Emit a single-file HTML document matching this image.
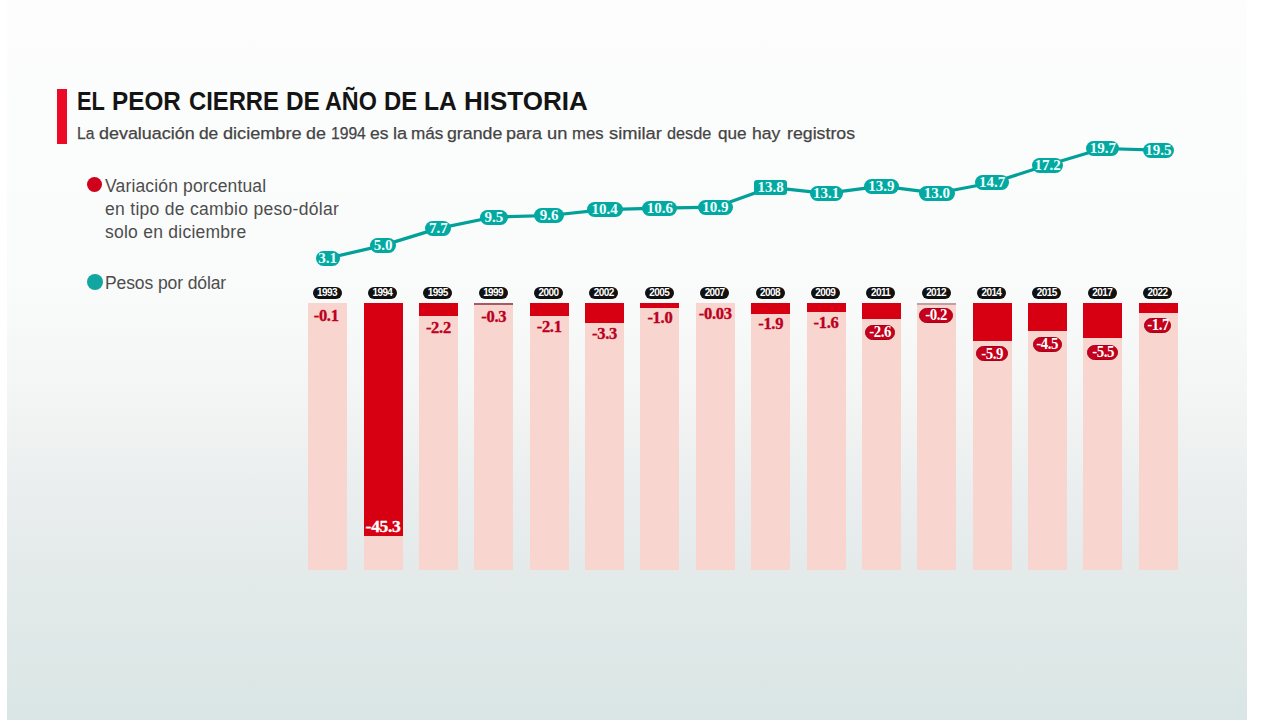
<!DOCTYPE html>
<html lang="es"><head><meta charset="utf-8"><title>El peor cierre de año de la historia</title>
<style>
html,body{margin:0;padding:0;}
body{width:1281px;height:720px;overflow:hidden;position:relative;background:#fff;font-family:"Liberation Sans",sans-serif;}
.panel{position:absolute;left:7px;top:0;width:1240px;height:720px;
 background:linear-gradient(to bottom,#fdfdfd 0px,#fbfcfc 150px,#f9fbfb 300px,#f3f5f4 400px,#e9eded 500px,#e2e9e9 600px,#d9e6e5 720px);}
.accent{position:absolute;left:57px;top:89px;width:10px;height:55px;background:#ec0a26;}
.title{position:absolute;left:0;top:85.5px;width:700px;height:30px;font-weight:bold;font-size:26.5px;line-height:30px;color:#141414;white-space:nowrap;}
.title span{position:absolute;top:0;transform-origin:0 0;}
.sub{position:absolute;left:0;top:122.8px;width:900px;height:20px;font-size:17.4px;line-height:20px;color:#444;white-space:nowrap;-webkit-text-stroke:0.25px #444;}
.sub span{position:absolute;top:0;transform-origin:0 0;}
.leg{position:absolute;left:105px;font-size:17.5px;color:#4d4d4d;line-height:23.2px;white-space:nowrap;}
.dot{position:absolute;width:15px;height:15px;border-radius:50%;}
.chart{position:absolute;left:0;top:0;}
.bar{position:absolute;width:39px;background:#f8d5ce;}
.red{position:absolute;width:39px;background:#d70012;}
.thin{position:absolute;width:39px;height:1.5px;}
.yr{position:absolute;width:29px;height:12px;border-radius:6px;background:#111;color:#fff;font-weight:bold;font-size:10px;line-height:12px;text-align:center;letter-spacing:-0.6px;}
.vl{position:absolute;width:50px;text-align:center;font-family:"Liberation Serif",serif;font-weight:bold;font-size:16.5px;line-height:10px;color:#bb0020;letter-spacing:-0.3px;-webkit-text-stroke:0.35px #bb0020;}
.vl.w{color:#fff;font-size:17.5px;-webkit-text-stroke:0.35px #fff;}
.vp span{display:inline-block;transform:scaleX(0.9);line-height:1;}
.vp{position:absolute;box-sizing:border-box;border:1px solid #a50018;border-radius:8px;background:#c4001c;color:#fff;font-family:"Liberation Serif",serif;font-weight:bold;font-size:16.5px;letter-spacing:-0.5px;display:flex;align-items:center;justify-content:center;white-space:nowrap;}
.lp{position:absolute;height:15px;border-radius:7.5px;background:#03a9a1;color:#effffe;font-family:"Liberation Serif",serif;font-weight:bold;font-size:15px;text-align:center;line-height:15px;}
</style></head><body>
<div class="panel"></div>
<div class="accent"></div>
<div class="title"><span style="left:77.35px;transform:scaleX(0.823)">EL</span> <span style="left:112.17px;transform:scaleX(0.917)">PEOR</span> <span style="left:188.60px;transform:scaleX(0.898)">CIERRE</span> <span style="left:285.66px;transform:scaleX(0.919)">DE</span> <span style="left:324.62px;transform:scaleX(0.881)">AÑO</span> <span style="left:383.80px;transform:scaleX(0.900)">DE</span> <span style="left:424.15px;transform:scaleX(0.927)">LA</span> <span style="left:464.04px;transform:scaleX(0.981)">HISTORIA</span> </div>
<div class="sub"><span style="left:76.75px;transform:scaleX(0.900)">La</span> <span style="left:98.97px;transform:scaleX(1.030)">devaluación</span> <span style="left:198.90px;transform:scaleX(1.000)">de</span> <span style="left:223.36px;transform:scaleX(1.042)">diciembre</span> <span style="left:306.37px;transform:scaleX(1.028)">de</span> <span style="left:330.70px;transform:scaleX(0.900)">1994</span> <span style="left:369.69px;transform:scaleX(1.006)">es</span> <span style="left:393.06px;transform:scaleX(1.042)">la</span> <span style="left:411.02px;transform:scaleX(0.984)">más</span> <span style="left:446.88px;transform:scaleX(1.021)">grande</span> <span style="left:506.27px;transform:scaleX(1.032)">para</span> <span style="left:546.85px;transform:scaleX(1.053)">un</span> <span style="left:571.84px;transform:scaleX(0.958)">mes</span> <span style="left:608.75px;transform:scaleX(1.053)">similar</span> <span style="left:667.47px;transform:scaleX(0.933)">desde</span> <span style="left:718.11px;transform:scaleX(0.985)">que</span> <span style="left:751.69px;transform:scaleX(1.011)">hay</span> <span style="left:786.78px;transform:scaleX(1.020)">registros</span> </div>
<div class="dot" style="left:86.8px;top:177.2px;background:#d0021b"></div>
<div class="leg" style="top:175px"><span style="letter-spacing:0.15px">Variación porcentual</span><br><span style="letter-spacing:0.3px">en tipo de cambio peso-dólar</span><br><span style="letter-spacing:0.25px">solo en diciembre</span></div>
<div class="dot" style="left:86.7px;top:273.8px;width:16px;height:16px;background:#12a6a0"></div>
<div class="leg" style="top:271.5px;letter-spacing:-0.1px">Pesos por dólar</div>
<svg class="chart" width="1281" height="720" viewBox="0 0 1281 720"><polyline points="327.7,258.2 383.1,245.4 438.4,228.4 493.8,217.0 549.2,215.5 604.5,209.6 659.9,208.2 715.3,207.2 770.7,187.3 826.0,193.4 881.4,186.2 936.8,193.2 992.1,182.7 1047.5,165.1 1102.9,148.5 1158.2,150.1" fill="none" stroke="#02a099" stroke-width="3.2" stroke-linejoin="round"/></svg>
<div class="bar" style="left:308.2px;top:303px;height:266.6px"></div><div class="yr" style="left:312.5px;top:286.8px">1993</div><div class="vl" style="left:301.2px;top:310.5px">-0.1</div><div class="lp" style="left:315.7px;top:250.7px;width:24.0px"><span>3.1</span></div><div class="bar" style="left:363.6px;top:303px;height:266.6px"></div><div class="red" style="left:363.6px;top:303px;height:233.0px"></div><div class="yr" style="left:367.9px;top:286.8px">1994</div><div class="vl w" style="left:358.1px;top:521.0px">-45.3</div><div class="lp" style="left:370.1px;top:237.9px;width:26.0px"><span>5.0</span></div><div class="bar" style="left:418.9px;top:303px;height:266.6px"></div><div class="red" style="left:418.9px;top:303px;height:13.0px"></div><div class="yr" style="left:423.2px;top:286.8px">1995</div><div class="vl" style="left:413.4px;top:322.5px">-2.2</div><div class="lp" style="left:425.4px;top:220.9px;width:26.0px"><span>7.7</span></div><div class="bar" style="left:474.3px;top:303px;height:266.6px"></div><div class="thin" style="left:474.3px;top:303px;background:#a85a64"></div><div class="yr" style="left:478.6px;top:286.8px">1999</div><div class="vl" style="left:468.8px;top:311.5px">-0.3</div><div class="lp" style="left:480.1px;top:209.5px;width:27.5px"><span>9.5</span></div><div class="bar" style="left:529.7px;top:303px;height:266.6px"></div><div class="red" style="left:529.7px;top:303px;height:12.7px"></div><div class="yr" style="left:534.0px;top:286.8px">2000</div><div class="vl" style="left:524.2px;top:321.7px">-2.1</div><div class="lp" style="left:534.2px;top:208.0px;width:30.0px"><span>9.6</span></div><div class="bar" style="left:585.0px;top:303px;height:266.6px"></div><div class="red" style="left:585.0px;top:303px;height:20.0px"></div><div class="yr" style="left:589.3px;top:286.8px">2002</div><div class="vl" style="left:579.5px;top:328.5px">-3.3</div><div class="lp" style="left:586.5px;top:202.1px;width:36.0px"><span>10.4</span></div><div class="bar" style="left:640.4px;top:303px;height:266.6px"></div><div class="red" style="left:640.4px;top:303px;height:5.3px"></div><div class="yr" style="left:644.7px;top:286.8px">2005</div><div class="vl" style="left:634.9px;top:313.1px">-1.0</div><div class="lp" style="left:642.4px;top:200.7px;width:35.0px"><span>10.6</span></div><div class="bar" style="left:695.8px;top:303px;height:266.6px"></div><div class="yr" style="left:700.1px;top:286.8px">2007</div><div class="vl" style="left:690.3px;top:308.8px">-0.03</div><div class="lp" style="left:698.0px;top:199.7px;width:34.5px"><span>10.9</span></div><div class="bar" style="left:751.2px;top:303px;height:266.6px"></div><div class="red" style="left:751.2px;top:303px;height:11.0px"></div><div class="yr" style="left:755.5px;top:286.8px">2008</div><div class="vl" style="left:745.7px;top:319.1px">-1.9</div><div class="lp" style="left:754.2px;top:179.8px;width:33.0px;border-radius:3px"><span>13.8</span></div><div class="bar" style="left:806.5px;top:303px;height:266.6px"></div><div class="red" style="left:806.5px;top:303px;height:9.1px"></div><div class="yr" style="left:810.8px;top:286.8px">2009</div><div class="vl" style="left:801.0px;top:317.5px">-1.6</div><div class="lp" style="left:809.5px;top:185.9px;width:33.0px"><span>13.1</span></div><div class="bar" style="left:861.9px;top:303px;height:266.6px"></div><div class="red" style="left:861.9px;top:303px;height:16.2px"></div><div class="yr" style="left:866.2px;top:286.8px">2011</div><div class="vp" style="left:865.0px;top:325.0px;width:30.3px;height:15.0px"><span>-2.6</span></div><div class="lp" style="left:863.9px;top:178.7px;width:35.0px"><span>13.9</span></div><div class="bar" style="left:917.3px;top:303px;height:266.6px"></div><div class="thin" style="left:917.3px;top:303px;background:#c59ea3"></div><div class="yr" style="left:921.6px;top:286.8px">2012</div><div class="vp" style="left:919.4px;top:308.0px;width:33.9px;height:15.0px"><span>-0.2</span></div><div class="lp" style="left:918.8px;top:185.7px;width:36.0px"><span>13.0</span></div><div class="bar" style="left:972.6px;top:303px;height:266.6px"></div><div class="red" style="left:972.6px;top:303px;height:37.5px"></div><div class="yr" style="left:976.9px;top:286.8px">2014</div><div class="vp" style="left:976.1px;top:346.1px;width:31.7px;height:15.3px"><span>-5.9</span></div><div class="lp" style="left:975.4px;top:175.2px;width:33.5px"><span>14.7</span></div><div class="bar" style="left:1028.0px;top:303px;height:266.6px"></div><div class="red" style="left:1028.0px;top:303px;height:28.2px"></div><div class="yr" style="left:1032.3px;top:286.8px">2015</div><div class="vp" style="left:1032.8px;top:336.7px;width:28.9px;height:15.2px"><span>-4.5</span></div><div class="lp" style="left:1032.3px;top:157.6px;width:30.5px"><span>17.2</span></div><div class="bar" style="left:1083.4px;top:303px;height:266.6px"></div><div class="red" style="left:1083.4px;top:303px;height:35.0px"></div><div class="yr" style="left:1087.7px;top:286.8px">2017</div><div class="vp" style="left:1087.1px;top:344.9px;width:31.2px;height:15.2px"><span>-5.5</span></div><div class="lp" style="left:1086.4px;top:141.0px;width:33.0px"><span>19.7</span></div><div class="bar" style="left:1138.8px;top:303px;height:266.6px"></div><div class="red" style="left:1138.8px;top:303px;height:9.6px"></div><div class="yr" style="left:1143.0px;top:286.8px">2022</div><div class="vp" style="left:1144.4px;top:318.0px;width:27.0px;height:15.3px"><span>-1.7</span></div><div class="lp" style="left:1142.5px;top:142.6px;width:31.6px"><span>19.5</span></div>
</body></html>
